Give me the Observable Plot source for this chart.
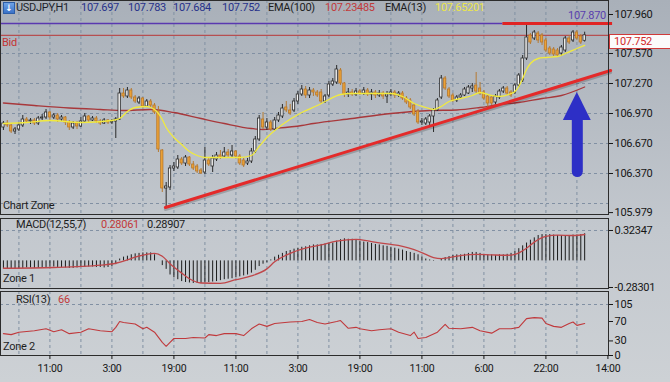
<!DOCTYPE html>
<html><head><meta charset="utf-8">
<script src="https://cdn.jsdelivr.net/npm/d3@7"></script>
<script src="https://cdn.jsdelivr.net/npm/@observablehq/plot@0.6"></script>
<style>
html,body{margin:0;padding:0;}
body{width:670px;height:382px;overflow:hidden;background:linear-gradient(#a9b0b9,#c3c8ce 60%,#cdd1d5);font-family:Roboto,"Liberation Sans",sans-serif;}
#wrap{position:relative;width:670px;height:382px;}
.panel{position:absolute;left:0;}
.lbl{position:absolute;white-space:nowrap;letter-spacing:-0.3px;}
</style></head><body><div id="wrap"></div>
<script>
// ---------- data ----------
const symbol = "USDJPY,H1";
const headerOHLC = ["107.697", "107.783", "107.684", "107.752"];
const ema100Label = "EMA(100)", ema100Last = "107.23485";
const ema13Label = "EMA(13)", ema13Last = "107.65201";
const macdLabel = "MACD(12,55,7)", macdSignalLast = "0.28061", macdLast = "0.28907";
const rsiLabel = "RSI(13)", rsiLast = "66";

const opens = [106.83,106.87,106.85,106.79,106.81,106.85,106.91,106.89,106.90,106.87,
106.92,106.93,106.98,106.93,106.95,106.91,106.93,106.88,106.83,106.87,
106.84,106.89,106.94,106.90,106.92,106.89,106.87,106.90,106.88,106.89,
106.91,107.17,107.14,107.20,107.13,107.08,107.12,107.04,107.09,107.05,
106.99,106.60,106.22,106.23,106.42,106.43,106.51,106.47,106.53,106.46,
106.44,106.40,106.38,106.50,106.44,106.51,106.55,106.54,106.58,106.55,
106.59,106.54,106.50,106.47,106.49,106.59,106.71,106.91,106.83,106.88,
106.81,106.90,106.94,107.03,107.00,107.00,107.09,107.16,107.21,107.15,
107.20,107.18,107.18,107.09,107.15,107.26,107.28,107.40,107.27,107.16,
107.18,107.16,107.19,107.17,107.20,107.16,107.18,107.15,107.17,107.14,
107.16,107.18,107.15,107.17,107.12,107.10,107.05,106.99,106.88,106.87,
106.88,106.94,107.00,107.13,107.32,107.21,107.15,107.10,107.13,107.15,
107.17,107.22,107.25,107.22,107.18,107.14,107.13,107.08,107.13,107.19,
107.22,107.18,107.18,107.25,107.30,107.52,107.75,107.72,107.77,107.75,
107.70,107.62,107.61,107.60,107.57,107.60,107.72,107.70,107.78,107.74,
107.697];
const highs = [106.89,106.90,106.87,106.83,106.88,106.95,106.93,106.92,106.92,106.94,
106.96,107.01,106.99,106.97,106.97,106.95,106.94,106.90,106.89,106.89,
106.93,106.97,106.95,106.94,106.94,106.91,106.92,106.91,106.91,106.93,
107.22,107.22,107.23,107.22,107.15,107.14,107.13,107.11,107.11,107.07,
107.04,106.61,106.28,106.45,106.48,106.55,106.53,106.55,106.54,106.49,
106.46,106.42,106.63,106.53,106.55,106.58,106.60,106.63,106.61,106.65,
106.60,106.56,106.52,106.52,106.62,106.74,106.95,106.98,106.92,106.90,
106.93,106.98,107.06,107.09,107.06,107.12,107.19,107.25,107.24,107.23,
107.22,107.20,107.21,107.16,107.29,107.32,107.45,107.42,107.28,107.22,
107.21,107.22,107.21,107.23,107.22,107.21,107.20,107.20,107.19,107.19,
107.21,107.20,107.19,107.19,107.14,107.12,107.07,107.01,106.92,106.93,
106.96,107.02,107.12,107.35,107.34,107.23,107.17,107.15,107.17,107.23,
107.25,107.27,107.38,107.28,107.20,107.16,107.15,107.16,107.21,107.24,
107.24,107.20,107.27,107.37,107.55,107.87,107.77,107.80,107.79,107.77,
107.72,107.64,107.63,107.62,107.65,107.74,107.75,107.80,107.80,107.76,
107.783];
const lows = [106.80,106.83,106.77,106.76,106.79,106.83,106.87,106.86,106.85,106.85,
106.90,106.91,106.90,106.91,106.88,106.89,106.85,106.80,106.81,106.81,
106.83,106.88,106.88,106.89,106.87,106.85,106.86,106.86,106.86,106.72,
106.90,107.12,107.12,107.11,107.07,107.06,107.02,107.03,107.03,106.96,
106.58,106.18,106.03,106.20,106.39,106.41,106.45,106.44,106.44,106.40,
106.37,106.36,106.36,106.44,106.38,106.49,106.51,106.52,106.53,106.52,
106.52,106.45,106.43,106.45,106.47,106.57,106.69,106.81,106.80,106.79,
106.79,106.88,106.92,106.98,106.95,106.98,107.06,107.14,107.12,107.12,
107.14,107.13,107.06,107.07,107.13,107.24,107.26,107.25,107.13,107.13,
107.14,107.14,107.15,107.15,107.14,107.10,107.12,107.13,107.11,107.07,
107.14,107.12,107.13,107.10,107.06,107.01,106.94,106.86,106.85,106.85,
106.84,106.78,106.99,107.11,107.20,107.12,107.08,107.08,107.11,107.14,
107.16,107.18,107.17,107.15,107.10,107.03,107.05,107.06,107.11,107.17,
107.15,107.13,107.16,107.23,107.28,107.50,107.66,107.70,107.67,107.65,
107.58,107.55,107.54,107.53,107.54,107.58,107.66,107.68,107.70,107.66,
107.684];
const closes = [106.87,106.85,106.79,106.81,106.85,106.91,106.89,106.90,106.87,106.92,
106.93,106.98,106.93,106.95,106.91,106.93,106.88,106.83,106.87,106.84,
106.89,106.94,106.90,106.92,106.89,106.87,106.90,106.88,106.89,106.91,
107.17,107.14,107.20,107.13,107.09,107.12,107.04,107.09,107.05,106.98,
106.61,106.22,106.24,106.42,106.44,106.51,106.47,106.53,106.46,106.42,
106.39,106.37,106.50,106.46,106.52,106.55,106.53,106.58,106.55,106.59,
106.54,106.47,106.45,106.49,106.59,106.71,106.92,106.83,106.88,106.81,
106.90,106.95,107.02,107.00,106.97,107.09,107.16,107.21,107.15,107.20,
107.18,107.15,107.09,107.14,107.26,107.29,107.41,107.27,107.16,107.18,
107.16,107.19,107.17,107.20,107.16,107.18,107.15,107.17,107.14,107.16,
107.18,107.15,107.17,107.12,107.08,107.03,106.96,106.88,106.89,106.91,
106.94,107.00,107.10,107.32,107.22,107.14,107.10,107.13,107.15,107.21,
107.23,107.24,107.19,107.17,107.12,107.07,107.07,107.14,107.19,107.22,
107.17,107.15,107.25,107.35,107.52,107.73,107.68,107.78,107.70,107.68,
107.60,107.57,107.56,107.55,107.63,107.72,107.68,107.78,107.72,107.68,
107.752];

const ema13Bars = [0,6,12,20,28,30,32,34,37,38,39,41,42,44,46,48,50,52,57,61,64,66,68,72,77,81,84,87,90,95,100,103,106,109,111,113,115,118,121,123,126,128,131,132,133,134,135,136,138,140,143,145,148,150];
const ema13Vals = [106.87,106.88,106.90,106.88,106.90,106.92,106.99,107.03,107.04,107.03,107.01,106.91,106.83,106.73,106.66,106.59,106.55,106.53,106.53,106.53,106.55,106.64,106.73,106.86,106.98,107.05,107.11,107.16,107.17,107.17,107.17,107.14,107.07,107.03,107.01,107.04,107.09,107.12,107.15,107.18,107.15,107.14,107.17,107.19,107.24,107.32,107.41,107.47,107.52,107.53,107.54,107.57,107.62,107.652];
const ema100Bars = [0,8,17,25,31,38,44,51,57,64,67,70,77,80,90,100,110,117,123,128,133,139,144,150];
const ema100Vals = [107.075,107.05,107.025,107.01,107.00,107.01,106.98,106.92,106.87,106.82,106.81,106.82,106.85,106.87,106.92,106.97,107.00,107.005,107.03,107.06,107.08,107.12,107.15,107.235];

const macdHist = [-0.08,-0.085,-0.09,-0.09,-0.085,-0.08,-0.075,-0.075,-0.08,-0.08,
-0.075,-0.07,-0.065,-0.065,-0.07,-0.07,-0.075,-0.08,-0.08,-0.075,
-0.07,-0.07,-0.065,-0.065,-0.07,-0.07,-0.075,-0.07,-0.06,-0.04,
0.02,0.04,0.05,0.065,0.075,0.08,0.085,0.085,0.085,0.065,
0.0,-0.05,-0.09,-0.15,-0.18,-0.2,-0.22,-0.23,-0.235,-0.24,
-0.24,-0.24,-0.235,-0.23,-0.225,-0.22,-0.21,-0.2,-0.195,-0.19,
-0.18,-0.17,-0.16,-0.15,-0.13,-0.1,-0.06,-0.035,-0.02,0.01,
0.04,0.06,0.08,0.1,0.11,0.125,0.135,0.145,0.15,0.16,
0.17,0.17,0.175,0.18,0.185,0.19,0.21,0.225,0.235,0.23,
0.23,0.225,0.21,0.2,0.195,0.185,0.175,0.17,0.16,0.155,
0.145,0.135,0.125,0.115,0.1,0.09,0.08,0.065,0.04,0.02,
0.01,-0.005,0.0,0.02,0.035,0.046,0.057,0.064,0.064,0.07,
0.08,0.09,0.09,0.08,0.07,0.064,0.064,0.057,0.064,0.064,
0.07,0.08,0.1,0.13,0.16,0.19,0.22,0.245,0.27,0.28,
0.28,0.28,0.275,0.27,0.27,0.27,0.27,0.275,0.275,0.28,
0.289];
const signalBars = [0,13,25,29,32,34,37,39,41,43,46,48,51,56,60,64,68,70,74,78,82,86,91,95,99,103,106,109,111,113,118,122,126,130,132,135,137,140,143,147,150];
const signalVals = [-0.078,-0.07,-0.045,-0.025,0.01,0.04,0.07,0.08,0.05,-0.03,-0.13,-0.19,-0.235,-0.24,-0.2,-0.16,-0.085,-0.01,0.08,0.135,0.17,0.21,0.23,0.205,0.18,0.155,0.12,0.07,0.035,0.025,0.057,0.07,0.064,0.06,0.07,0.135,0.2,0.26,0.275,0.27,0.281];

const rsiBars = [0,2,4,8,11,13,15,17,20,22,25,28,29,30,31,34,36,37,39,41,42,43,44,47,49,52,53,55,57,60,62,64,66,68,70,74,77,79,81,83,86,87,89,91,92,95,97,100,102,105,106,107,109,112,114,115,118,121,123,126,128,131,133,135,137,139,140,142,144,146,147,148,150];
const rsiVals = [45,43,48,51,55,49,53,45,48,55,51,49,58,70,68,65,55,58,48,27,19,27,35,35,37,36,43,41,45,45,41,55,65,60,66,69,70,74,68,65,70,72,56,58,55,51,53,55,48,41,48,35,37,48,64,56,55,58,51,46,55,55,58,76,78,77,66,60,58,66,69,62,66];

const priceTicks = [107.960, 107.570, 107.270, 106.970, 106.670, 106.370, 105.979];
const priceGrid = [107.87, 107.57, 107.27, 106.97, 106.67, 106.37, 106.07];
const macdTicks = [0.32347, -0.28301];
const rsiTicks = [105, 70, 30, 0];
const timeTickBars = [12, 28, 44, 60, 76, 92, 108, 124, 140, 156];
const timeLabels = ["11:00","3:00","19:00","11:00","3:00","19:00","11:00","6:00","22:00","14:00"];

const bidPrice = 107.752;
const maxLinePrice = 107.870, maxLineLabel = "107.870", maxLineSplitBar = 128.9;
const trendBars = [41.8, 156.7], trendPrices = [106.03, 107.40];
const arrowBar = 148.1, arrowHalf = 3.6, arrowTail = 106.39, arrowBase = 106.90, arrowTip = 107.18;

// ---------- build ----------
const wrap = document.getElementById("wrap");
const xDomain = [-0.75, 156.15];
const gridBars = d3.range(4, 156, 8);
const fontFam = "Roboto, 'Liberation Sans', sans-serif";
const gridStyle = {stroke: "#8190a3", strokeDasharray: "3,3", strokeWidth: 1};
function base(h, mt, mb) {
  return {width: 670, height: h, marginLeft: 0, marginRight: 62, marginTop: mt, marginBottom: mb,
    style: {background: "transparent", overflow: "visible", fontFamily: fontFam, fontSize: "11px", color: "#161616", letterSpacing: "-0.3px"}};
}
function place(svg, top) { svg.classList.add("panel"); svg.style.top = top + "px"; wrap.appendChild(svg); return svg; }

const candles = opens.map((o, i) => ({i, o, h: highs[i], l: lows[i], c: closes[i], up: closes[i] >= o}));
const ema13 = ema13Bars.map((b, k) => ({i: b, p: ema13Vals[k]}));
const ema100 = ema100Bars.map((b, k) => ({i: b, p: ema100Vals[k]}));
const trend = trendBars.map((b, k) => ({i: b, p: trendPrices[k]}));
const arrowHead = [
  {i: arrowBar - arrowHalf, p1: arrowBase, p2: arrowBase},
  {i: arrowBar, p1: arrowBase, p2: arrowTip},
  {i: arrowBar + arrowHalf, p1: arrowBase, p2: arrowBase}];
const arrowShaft = [{i: arrowBar, p: arrowTail}, {i: arrowBar, p: arrowBase}];
const arrowColor = "#2d2fc6";

const main = Plot.plot({
  ...base(215, 0, 1),
  x: {domain: xDomain, axis: null},
  y: {domain: [105.96, 108.10]},
  marks: [
    Plot.ruleX(gridBars, gridStyle),
    Plot.ruleY(priceGrid, gridStyle),
    Plot.ruleY([maxLinePrice], {x1: xDomain[0], x2: maxLineSplitBar, stroke: "#5a38b0", strokeWidth: 1.5}),
    Plot.ruleY([bidPrice], {stroke: "#b83636", strokeWidth: 1}),
    Plot.line(ema100, {x: "i", y: "p", curve: "monotone-x", stroke: "#a8383b", strokeWidth: 1.3}),
    Plot.ruleX(candles, {x: "i", y1: "l", y2: "h", stroke: d => d.up ? "#2a2a2a" : "#b57a32", strokeWidth: 1}),
    Plot.rect(candles, {x1: d => d.i - 0.3, x2: d => d.i + 0.3, y1: "o", y2: "c",
      fill: d => d.up ? "#f3f3f3" : "#eba236", stroke: d => d.up ? "#2a2a2a" : "#b8782c", strokeWidth: 0.8}),
    Plot.line(ema13, {x: "i", y: "p", curve: "monotone-x", stroke: "#f1ea3e", strokeWidth: 1.3}),
    Plot.line(trend, {x: "i", y: "p", stroke: "#000", strokeOpacity: 0.18, strokeWidth: 3, dy: 2}),
    Plot.line(trend, {x: "i", y: "p", stroke: "#e42a2a", strokeWidth: 3}),
    Plot.ruleY([maxLinePrice], {x1: maxLineSplitBar, x2: 157.2, stroke: "#e02424", strokeWidth: 3}),
    Plot.line(arrowShaft, {x: "i", y: "p", stroke: arrowColor, strokeWidth: 11, strokeLinecap: "round"}),
    Plot.areaY(arrowHead, {x: "i", y1: "p1", y2: "p2", fill: arrowColor}),
    Plot.frame({stroke: "#2c2c2c"}),
    Plot.axisY({anchor: "right", ticks: priceTicks, tickFormat: d => d.toFixed(3), tickSize: 4, tickPadding: 2, label: null})
  ]
});
place(main, 0);

const macd = Plot.plot({
  ...base(71, 0, 1),
  x: {domain: xDomain, axis: null},
  y: {domain: [-0.2937, 0.4511]},
  marks: [
    Plot.ruleX(gridBars, gridStyle),
    Plot.ruleY([macdTicks[0]], gridStyle),
    Plot.ruleX(macdHist, {x: (d, i) => i, y1: 0, y2: d => d, stroke: "#1b1b1b", strokeWidth: 1}),
    Plot.line(signalBars, {x: d => d, y: (d, k) => signalVals[k], curve: "monotone-x", stroke: "#c0474a", strokeWidth: 1.3}),
    Plot.frame({stroke: "#2c2c2c"}),
    Plot.axisY({anchor: "right", ticks: macdTicks, tickFormat: d => d.toFixed(5), tickSize: 4, tickPadding: 2, label: null})
  ]
});
place(macd, 218);

const rsi = Plot.plot({
  ...base(91, 0, 27),
  x: {domain: xDomain},
  y: {domain: [0, 131.8]},
  marks: [
    Plot.ruleX(gridBars, gridStyle),
    Plot.ruleY([rsiTicks[0]], gridStyle),
    Plot.line(rsiBars, {x: d => d, y: (d, k) => rsiVals[k], stroke: "#c0393c", strokeWidth: 1.1}),
    Plot.frame({stroke: "#2c2c2c"}),
    Plot.axisY({anchor: "right", ticks: rsiTicks, tickFormat: d => String(d), tickSize: 4, tickPadding: 2, label: null}),
    Plot.axisX({ticks: timeTickBars, tickFormat: d => timeLabels[timeTickBars.indexOf(d)], tickSize: 4, tickPadding: 5, fontSize: 10.5, label: null})
  ]
});
place(rsi, 291);

// ---------- text overlays ----------
function label(txt, x, yc, color, size = 11) {
  const s = document.createElement("div");
  s.className = "lbl"; s.textContent = txt;
  s.style.left = x + "px"; s.style.top = (yc - size * 0.62) + "px";
  s.style.fontSize = size + "px"; s.style.lineHeight = (size * 1.2) + "px"; s.style.color = color;
  wrap.appendChild(s); return s;
}
const icon = document.createElement("div");
Object.assign(icon.style, {position: "absolute", left: "3px", top: "2px", width: "10px", height: "10px",
  background: "linear-gradient(#6fa3e6,#3a72c8)", border: "1px solid #2d5ea8", color: "#fff",
  fontSize: "9px", lineHeight: "10px", textAlign: "center", fontWeight: "bold", fontFamily: "DejaVu Sans"});
icon.textContent = "\u2193";
wrap.appendChild(icon);

label(symbol, 16, 8, "#1c1f2a");
const hx = [81, 128, 173, 222];
headerOHLC.forEach((t, k) => label(t, hx[k], 8, "#27318a"));
label(ema100Label, 268, 8, "#1c1c1c");
label(ema100Last, 325, 8, "#c23a3a");
label(ema13Label, 385, 8, "#1c1c1c");
label(ema13Last, 435, 8, "#ece64a");

const ys = main.scale("y");
label("Bid", 2, ys.apply(bidPrice) + 8, "#c43333");
label(maxLineLabel, 568, ys.apply(maxLinePrice) - 7.5, "#5a3fae");
label("Chart Zone", 3, 206, "#1e1e1e");

const box = document.createElement("div");
const by = Math.round(ys.apply(bidPrice)) - 1;
Object.assign(box.style, {position: "absolute", left: "609px", top: by + "px", width: "61px", height: "15px",
  background: "#fbfbfb", border: "1px solid #d03a3a", borderRight: "none", boxSizing: "border-box"});
wrap.appendChild(box);
label(headerOHLC[3], 614, by + 7.5, "#d02a2a");

label(macdLabel, 16, 225, "#1c1c1c");
label(macdSignalLast, 101, 225, "#c23a3a");
label(macdLast, 147, 225, "#1c1c1c");
label("Zone 1", 3, 279, "#1e1e1e");

label(rsiLabel, 16, 300, "#1c1c1c");
label(rsiLast, 58, 300, "#c23a3a");
label("Zone 2", 3, 347, "#1e1e1e");
</script></body></html>
